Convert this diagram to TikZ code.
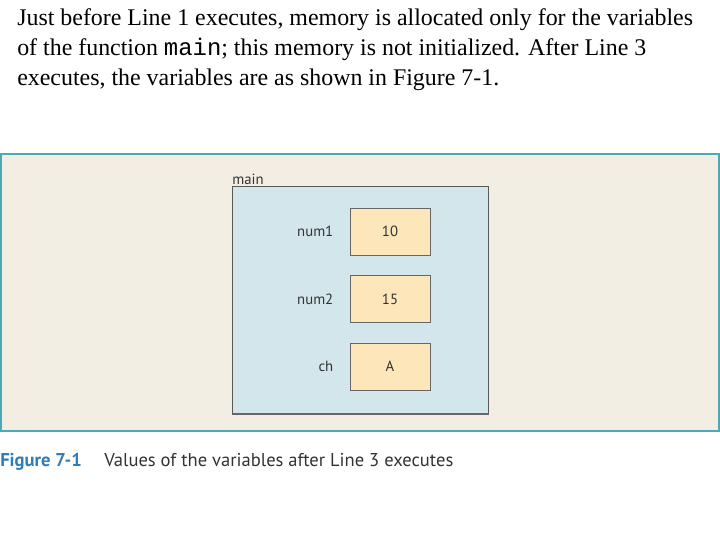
\documentclass[tikz,border=0pt]{standalone}
\usepackage{fontspec}
\setmainfont{Liberation Serif}
\setmonofont{Liberation Mono}
\newfontfamily\figfont{PT Sans}
\usepackage{xcolor}
\usepackage{tikz}
\usetikzlibrary{positioning}

\definecolor{panelbg}{HTML}{F2EEE3}
\definecolor{panelline}{HTML}{4DA9B6}
\definecolor{framebg}{HTML}{D3E6EC}
\definecolor{cellbg}{HTML}{FCE6BA}
\definecolor{figblue}{HTML}{2E7DB8}

\begin{document}
\begin{tikzpicture}[
    x=0.025cm,y=-0.025cm,
    frame/.style={draw=black!65,fill=framebg,line width=0.6pt,
      minimum width=6.4cm,minimum height=5.675cm,inner sep=0pt},
    cell/.style={draw=black!60,fill=cellbg,line width=0.6pt,
      minimum width=2cm,minimum height=1.175cm,
      font=\figfont\fontsize{10.5}{12}\selectfont,text=black!80},
    varname/.style={left=0.4cm of #1,font=\figfont\fontsize{10.5}{12}\selectfont,
      text=black!80,inner sep=0pt}
  ]
    \useasboundingbox (0,0) rectangle (720,540);

    \node[anchor=north west,align=left,inner sep=0pt,
      font=\fontsize{17}{21.3}\selectfont] (intro) at (17,8)
      {Just before Line 1 executes, memory is allocated only for the variables\\
       of the function \texttt{main}; this memory is not initialized. After Line 3\\
       executes, the variables are as shown in Figure 7-1.};

    \draw[panelline,fill=panelbg,line width=1.8pt] (1,154) rectangle (719,431);

    \node[frame,anchor=north west] (mainframe) at (232,186) {};
    \draw[black!60,line width=1.6pt] (mainframe.south west) -- (mainframe.south east);
    \node[anchor=south west,inner sep=0pt,font=\figfont\fontsize{10.5}{12}\selectfont,
      text=black!80] (mainlbl) at ([yshift=1pt]mainframe.north west) {main};

    \foreach \v/\val/\y in {num1/10/231.5,num2/15/299,ch/A/366.5} {
      \node[cell] (cell-\v) at (390,\y) {\val};
      \node[varname=cell-\v] (lbl-\v) {\v};
    }

    \node[anchor=base west,inner sep=0pt,font=\figfont\fontsize{13.2}{15}\selectfont]
      (figno) at (0,466) {\textcolor{figblue}{\bfseries Figure 7-1}};
    \node[anchor=base west,inner sep=0pt,font=\figfont\fontsize{13.2}{15}\selectfont,
      text=black!80] (figcap) at (104,466) {Values of the variables after Line 3 executes};
  \end{tikzpicture}
\end{document}
